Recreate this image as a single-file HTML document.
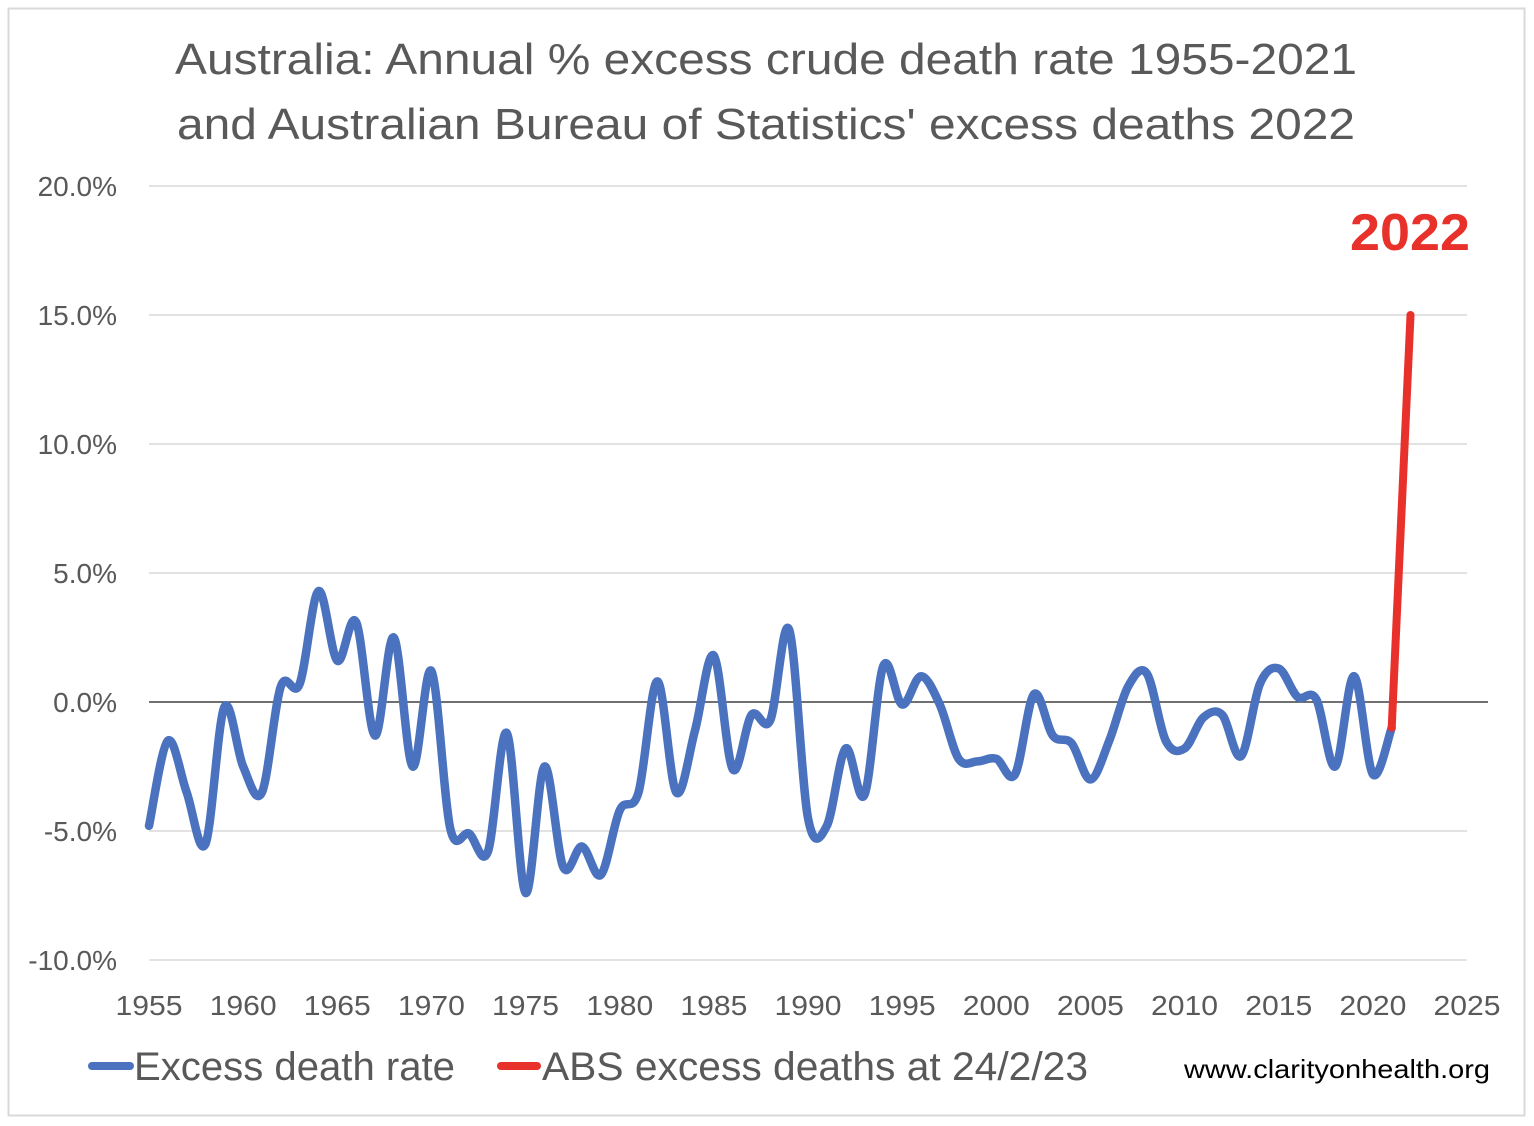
<!DOCTYPE html>
<html><head><meta charset="utf-8"><style>
html,body{margin:0;padding:0;background:#fff}
svg{display:block;font-family:"Liberation Sans",sans-serif}
</style></head><body>
<svg id="chart" width="1534" height="1126" viewBox="0 0 1534 1126">
<rect x="8.5" y="8.5" width="1516" height="1107" fill="#fff" stroke="#d9d9d9" stroke-width="2"/>
<text x="175" y="74" font-size="44" fill="#595959" textLength="1182" lengthAdjust="spacingAndGlyphs">Australia: Annual % excess crude death rate 1955-2021</text>
<text x="177" y="139" font-size="44" fill="#595959" textLength="1178" lengthAdjust="spacingAndGlyphs">and Australian Bureau of Statistics' excess deaths 2022</text>
<g id="grid"></g><g id="yticks"></g><g id="xticks"></g><g id="series"></g>
<text x="1350" y="250" font-size="52" font-weight="bold" fill="#e8312a" textLength="120" lengthAdjust="spacingAndGlyphs">2022</text>
<line x1="92" y1="1066" x2="130" y2="1066" stroke="#4a72be" stroke-width="8" stroke-linecap="round"/>
<text x="134" y="1080" font-size="40" fill="#595959" textLength="321" lengthAdjust="spacingAndGlyphs">Excess death rate</text>
<line x1="501" y1="1066" x2="537" y2="1066" stroke="#e8312a" stroke-width="8" stroke-linecap="round"/>
<text x="542" y="1080" font-size="40" fill="#595959" textLength="546" lengthAdjust="spacingAndGlyphs">ABS excess deaths at 24/2/23</text>
<text x="1184" y="1078" font-size="26" fill="#000" textLength="306" lengthAdjust="spacingAndGlyphs">www.clarityonhealth.org</text>
</svg>
<script>
const years = [];
for (let y = 1955; y <= 2021; y++) years.push(y);
const excessRate = [-4.8,-1.5,-3.5,-5.5,-0.2,-2.5,-3.5,0.6,0.7,4.3,1.6,3.1,-1.3,2.5,-2.5,1.2,-4.9,-5.1,-5.8,-1.2,-7.4,-2.5,-6.4,-5.6,-6.7,-4.2,-3.5,0.8,-3.5,-1.1,1.8,-2.6,-0.5,-0.7,2.8,-4.5,-4.8,-1.8,-3.6,1.4,-0.1,1.0,-0.1,-2.2,-2.3,-2.2,-2.8,0.3,-1.3,-1.6,-3.0,-1.5,0.6,1.1,-1.5,-1.8,-0.6,-0.5,-2.1,0.7,1.3,0.2,0.1,-2.5,1.0,-2.8,-1.0];
const absYears = [2021, 2022];
const absValues = [-1.0, 15.0];
const yTicks = [20, 15, 10, 5, 0, -5, -10];
const yTickLabels = ["20.0%","15.0%","10.0%","5.0%","0.0%","-5.0%","-10.0%"];
const xTicks = [1955,1960,1965,1970,1975,1980,1985,1990,1995,2000,2005,2010,2015,2020,2025];

const NS = "http://www.w3.org/2000/svg";
const X0 = 149, X1 = 1467, Y20 = 186, Ym10 = 960;
const xs = yr => X0 + (yr - 1955) * (X1 - X0) / 70;
const ys = v => Y20 + (20 - v) * (Ym10 - Y20) / 30;
function mk(tag, attrs, parent) { const e = document.createElementNS(NS, tag); for (const k in attrs) e.setAttribute(k, attrs[k]); parent.appendChild(e); return e; }

const grid = document.getElementById('grid'), yt = document.getElementById('yticks'), xt = document.getElementById('xticks'), ser = document.getElementById('series');
yTicks.forEach((v, i) => {
  const ln = mk('line', {x1: X0, x2: v === 0 ? 1488 : X1, y1: ys(v), y2: ys(v), stroke: v === 0 ? '#404040' : '#d9d9d9', 'stroke-width': 1.5}, grid);
  
  
  const t = mk('text', {x: 117, y: ys(v) + 10, 'font-size': 28, fill: '#595959', 'text-anchor': 'end'}, yt);
  t.textContent = yTickLabels[i];
  
  
});
xTicks.forEach(yr => {
  const t = mk('text', {x: xs(yr), y: 1015, 'font-size': 28, fill: '#595959', 'text-anchor': 'middle', textLength: 67, lengthAdjust: 'spacingAndGlyphs'}, xt);
  t.textContent = yr;
  
  
});
function smooth(pts) {
  let d = `M${pts[0][0]},${pts[0][1]}`;
  const k = 1 / 6;
  for (let i = 0; i < pts.length - 1; i++) {
    const p0 = pts[Math.max(0, i - 1)], p1 = pts[i], p2 = pts[i + 1], p3 = pts[Math.min(pts.length - 1, i + 2)];
    const c1x = p1[0] + (p2[0] - p0[0]) * k, c1y = p1[1] + (p2[1] - p0[1]) * k;
    const c2x = p2[0] - (p3[0] - p1[0]) * k, c2y = p2[1] - (p3[1] - p1[1]) * k;
    d += ` C${c1x},${c1y} ${c2x},${c2y} ${p2[0]},${p2[1]}`;
  }
  return d;
}
const bluePts = years.map((yr, i) => [xs(yr), ys(excessRate[i])]);
const blue = mk('path', {d: smooth(bluePts), fill: 'none', stroke: '#4a72be', 'stroke-width': 8.5, 'stroke-linejoin': 'round', 'stroke-linecap': 'round'}, ser);


const red = mk('path', {d: smooth(absYears.map((yr, i) => [xs(yr), ys(absValues[i])])), fill: 'none', stroke: '#e8312a', 'stroke-width': 8, 'stroke-linecap': 'round'}, ser);


</script>
</body></html>
